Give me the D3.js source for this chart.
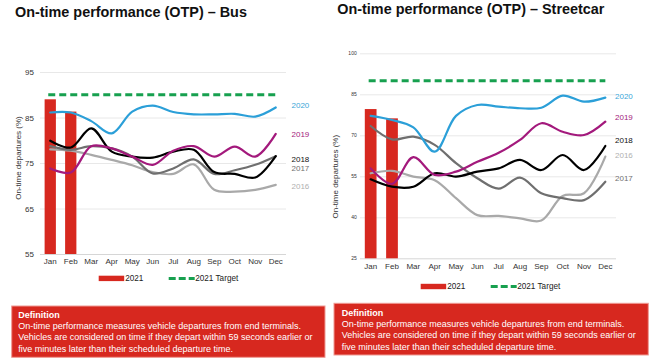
<!DOCTYPE html>
<html><head><meta charset="utf-8">
<script src="https://cdn.jsdelivr.net/npm/d3@7"></script>
<style>
html,body{margin:0;padding:0;background:#fff;}
svg{display:block;font-family:"Liberation Sans",Arial,sans-serif;}
</style></head>
<body>
<svg id="c" width="660" height="360"></svg>
<script>
// ---------- DATA ----------
const months = ["Jan","Feb","Mar","Apr","May","Jun","Jul","Aug","Sep","Oct","Nov","Dec"];
const years = ["2020","2019","2018","2017","2016"];

// Bus
const busBars2021 = [89.0, 86.3];
const busTarget = 90;
const busTicks = [55, 65, 75, 85, 95];
const bus2020 = [86.1, 86.1, 84.2, 81.5, 86.3, 87.6, 86.2, 85.7, 85.7, 85.8, 85.2, 87.2];
const bus2019 = [73.8, 72.9, 78.7, 78.2, 76.4, 74.6, 77.7, 78.7, 76.4, 78.6, 76.4, 81.4];
const bus2018 = [79.9, 78.4, 82.6, 77.5, 76.4, 76.2, 77.5, 77.9, 73.0, 72.6, 71.8, 76.5];
const bus2017 = [78.7, 77.9, 78.7, 78.2, 76.4, 72.7, 73.8, 75.8, 72.6, 73.4, 74.6, 76.5];
const bus2016 = [78.0, 77.7, 76.8, 75.7, 74.5, 73.0, 72.6, 74.7, 69.1, 68.7, 69.1, 70.2];
const busLabelAt = [87.6, 81.2, 75.7, 73.7, 69.8];   // 2020..2016 label anchors (value units)

// Streetcar
const scBars2021 = [79.6, 76.2];
const scTarget = 90;
const scTicks = [25, 40, 55, 70, 85, 100];
const sc2020 = [77.1, 75.6, 72.9, 64.0, 77.1, 81.1, 80.5, 79.9, 80.1, 84.5, 82.3, 83.8];
const sc2019 = [57.9, 52.2, 62.0, 55.5, 56.7, 60.3, 63.6, 68.3, 74.4, 71.3, 70.1, 75.0];
const sc2018 = [53.9, 51.2, 51.2, 56.1, 54.9, 56.7, 57.9, 61.0, 57.3, 62.8, 57.3, 66.1];
const sc2017 = [73.4, 68.5, 69.5, 66.5, 59.8, 54.3, 50.5, 54.5, 48.8, 47.0, 46.3, 53.0];
const sc2016 = [56.1, 57.0, 54.9, 53.6, 47.0, 40.8, 40.5, 39.6, 38.8, 47.8, 48.8, 62.2];
const scLabelAt = [83.9, 76.2, 68.0, 53.9, 62.5];    // 2020,2019,2018,2017,2016

const legendLabels = ["2021", "2021 Target"];
const yTitle = "On-time departures (%)";
const defTitle = "Definition";
const defLines = [
  "On-time performance measures vehicle departures from end terminals.",
  "Vehicles are considered on time if they depart within 59 seconds earlier or",
  "five minutes later than their scheduled departure time."
];

// ---------- STYLE ----------
const lineColors = {"2020":"#2b9fd8","2019":"#a3197c","2018":"#000000","2017":"#6f6f6f","2016":"#a9a9a9"};
const labelColors = {"2020":"#3aa6d8","2019":"#a3197c","2018":"#111111","2017":"#6f6f6f","2016":"#b0b0b0"};
const RED = "#d7281f", GREEN = "#17a04f";

const svg = d3.select("#c");

function drawChart(cfg){
  const g = svg.append("g");
  const x = d3.scaleBand().domain(months).range([cfg.x0, cfg.x1]).padding(0);
  const y = d3.scaleLinear().domain([cfg.ticks[0], cfg.ticks[cfg.ticks.length-1]]).range([cfg.yb, cfg.yt]);
  const cx = m => x(m) + x.bandwidth()/2;

  // title
  svg.append("text").attr("x", cfg.titleX).attr("y", cfg.titleY)
    .attr("font-size", 14.4).attr("font-weight", "bold").attr("fill", "#111")
    .text(cfg.title);

  // grid
  g.selectAll("line.grid").data(cfg.ticks).join("line")
    .attr("x1", cfg.x0).attr("x2", cfg.x1)
    .attr("y1", d => y(d)+0.5).attr("y2", d => y(d)+0.5)
    .attr("stroke", (d,i) => i===0 ? "#d6d6d6" : "#e8e8e8").attr("stroke-width", 1);

  // y axis labels
  const ya = d3.axisLeft(y).tickValues(cfg.ticks).tickSize(0).tickPadding(0);
  const yg = g.append("g").attr("transform", `translate(${cfg.yLabX},0)`).call(ya);
  yg.select(".domain").remove();
  yg.selectAll("text").attr("font-size", cfg.yFont).attr("fill", "#333").attr("font-family", null);

  // x axis labels
  const xa = d3.axisBottom(x).tickSize(0).tickPadding(0);
  const xg = g.append("g").attr("transform", `translate(0,${cfg.xLabY})`).call(xa);
  xg.select(".domain").remove();
  xg.selectAll("text").attr("font-size", 8).attr("fill", "#333").attr("dy", "0.35em").attr("font-family", null);

  // y title
  g.append("text").attr("transform", `translate(${cfg.yTitleX},${cfg.yTitleY}) rotate(-90)`)
    .attr("text-anchor", "middle").attr("dominant-baseline", "middle")
    .attr("font-size", 8).attr("fill", "#333").text(yTitle);

  // bars
  const bw = x.bandwidth()*0.55;
  g.selectAll("rect.bar").data(cfg.bars).join("rect")
    .attr("x", (d,i) => cx(months[i]) - bw/2)
    .attr("y", d => y(d))
    .attr("width", bw)
    .attr("height", d => y(cfg.ticks[0]) - y(d))
    .attr("fill", RED);

  // target
  g.append("line").attr("x1", cx(months[0])-2).attr("x2", cx(months[11]))
    .attr("y1", y(cfg.target)).attr("y2", y(cfg.target))
    .attr("stroke", GREEN).attr("stroke-width", 3).attr("stroke-dasharray", "7,4");

  // lines (draw older first)
  const line = d3.line().x((d,i) => cx(months[i])).y(d => y(d)).curve(d3.curveCatmullRom.alpha(0.5));
  const order = ["2016","2017","2018","2019","2020"];
  order.forEach(yr => {
    g.append("path").datum(cfg.series[yr]).attr("d", line)
      .attr("fill", "none").attr("stroke", lineColors[yr]).attr("stroke-width", 2.2)
      .attr("stroke-linecap", "round");
  });

  // series labels
  years.forEach((yr, i) => {
    g.append("text").attr("x", cfg.labX).attr("y", y(cfg.labelAt[i]))
      .attr("dominant-baseline", "middle").attr("font-size", 8)
      .attr("fill", labelColors[yr]).text(yr);
  });

  // legend
  const L = cfg.legend;
  g.append("rect").attr("x", L.x).attr("y", L.y-2.7).attr("width", 25.5).attr("height", 5.4).attr("fill", RED);
  g.append("text").attr("x", L.x+26.5).attr("y", L.y).attr("dominant-baseline", "middle")
    .attr("font-size", 8.2).attr("fill", "#222").text(legendLabels[0]);
  g.append("line").attr("x1", L.x+70).attr("x2", L.x+96).attr("y1", L.y).attr("y2", L.y)
    .attr("stroke", GREEN).attr("stroke-width", 3).attr("stroke-dasharray", "7,3");
  g.append("text").attr("x", L.x+96.5).attr("y", L.y).attr("dominant-baseline", "middle")
    .attr("font-size", 8.2).attr("fill", "#222").text(legendLabels[1]);

  // definition box
  const D = cfg.def;
  g.append("rect").attr("x", D.x).attr("y", D.y).attr("width", D.w).attr("height", D.h)
    .attr("fill", RED).attr("stroke", "#ef9a94").attr("stroke-width", 1);
  g.append("text").attr("x", D.tx).attr("y", D.ty).attr("dominant-baseline", "middle")
    .attr("font-size", 9).attr("font-weight", "bold").attr("fill", "#fff").text(defTitle);
  defLines.forEach((t, i) => {
    g.append("text").attr("x", D.tx).attr("y", D.ty + 11.3*(i+1)).attr("dominant-baseline", "middle")
      .attr("font-size", 9).attr("fill", "#fff").text(t);
  });
}

drawChart({
  title: "On-time performance (OTP) \u2013 Bus", titleX: 15, titleY: 16.5,
  x0: 40, x1: 286, yb: 254, yt: 72, ticks: busTicks, yLabX: 34, yFont: 8,
  xLabY: 260.7, yTitleX: 18.8, yTitleY: 158,
  bars: busBars2021, target: busTarget,
  series: {"2020":bus2020,"2019":bus2019,"2018":bus2018,"2017":bus2017,"2016":bus2016},
  labelAt: busLabelAt, labX: 291.5,
  legend: {x: 98.7, y: 278.4},
  def: {x: 11.7, y: 306, w: 313.3, h: 51.3, tx: 18.3, ty: 315.3}
});

drawChart({
  title: "On-time performance (OTP) \u2013 Streetcar", titleX: 337.3, titleY: 13.5,
  x0: 360, x1: 616, yb: 258.3, yt: 53.3, ticks: scTicks, yLabX: 356.7, yFont: 5,
  xLabY: 266, yTitleX: 336.3, yTitleY: 176.7,
  bars: scBars2021, target: scTarget,
  series: {"2020":sc2020,"2019":sc2019,"2018":sc2018,"2017":sc2017,"2016":sc2016},
  labelAt: scLabelAt, labX: 615,
  legend: {x: 420.7, y: 286.5},
  def: {x: 334, y: 303.3, w: 314.3, h: 51.7, tx: 341.7, ty: 313.3}
});
</script>
</body></html>
